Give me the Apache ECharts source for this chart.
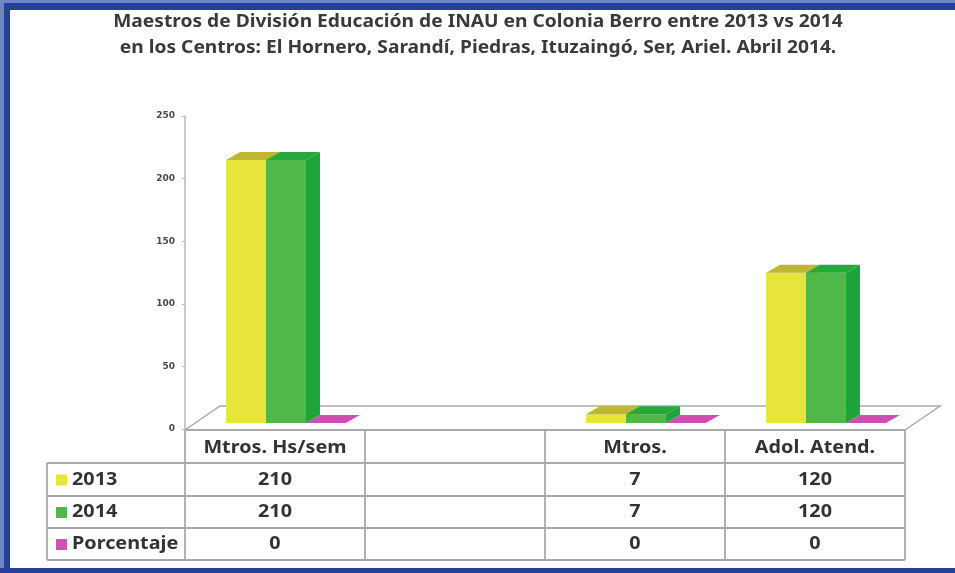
<!DOCTYPE html>
<html><head><meta charset="utf-8">
<script src="https://cdn.jsdelivr.net/npm/echarts@6/dist/echarts.min.js"></script>
<style>html,body{margin:0;padding:0;background:#fff}#c{width:955px;height:573px}</style>
</head><body><div id="c"></div>
<script>
var titleLines = ['Maestros de División Educación de INAU en Colonia Berro entre 2013 vs 2014',
                  'en los Centros: El Hornero, Sarandí, Piedras, Ituzaingó, Ser, Ariel. Abril 2014.'];
var categories = ['Mtros. Hs/sem', '', 'Mtros.', 'Adol. Atend.'];
var seriesNames = ['2013', '2014', 'Porcentaje'];
var values2013 = [210, null, 7, 120];
var values2014 = [210, null, 7, 120];
var valuesPorc = [0, null, 0, 0];
var yTicks = [0, 50, 100, 150, 200, 250];

var allValues = [values2013, values2014, valuesPorc];
var faceColors = [
  {front: '#e7e43c', top: '#bdb830', side: '#d2cf30'},
  {front: '#4fb848', top: '#27a83b', side: '#1da53c'},
  {front: '#cf52b8', top: '#cc4fb4', side: '#b0409c'}
];

var GL = 185, GR = 905, GT = 116, GB = 429;
var chart = echarts.init(document.getElementById('c'));

function makeRender(si) {
  return function (params, api) {
    var cat = api.value(0), v = api.value(1);
    if (v === null || isNaN(v)) return;
    var base = api.coord([cat, 0]);
    var top = api.coord([cat, v]);
    var band = api.size([1, 0])[0];
    var w = band * 0.222;
    var ox = 11, oy = -6, dx = 14, dy = -8;
    var x0 = base[0] - 1.5 * w + si * w + ox;
    var x1 = x0 + w;
    var yb = base[1] + oy, yt = top[1] + oy;
    var c = faceColors[si];
    var kids = [];
    if (yb - yt > 0.5) {
      kids.push({type: 'polygon', shape: {points: [[x1, yb], [x1, yt], [x1 + dx, yt + dy], [x1 + dx, yb + dy]]}, style: {fill: c.side}});
      kids.push({type: 'rect', shape: {x: x0, y: yt, width: w, height: yb - yt}, style: {fill: c.front}});
    }
    kids.push({type: 'polygon', shape: {points: [[x0, yt], [x1, yt], [x1 + dx, yt + dy], [x0 + dx, yt + dy]]}, style: {fill: c.top}});
    return {type: 'group', children: kids};
  };
}

var series = seriesNames.map(function (n, si) {
  return {
    type: 'custom', name: n, z: 10 + (si === 2 ? -1 : si),
    renderItem: makeRender(si),
    data: allValues[si].map(function (v, i) { return [i, v]; }),
    encode: {x: 0, y: 1}
  };
});

chart.setOption({
  animation: false,
  backgroundColor: '#fff',
  grid: {left: GL, right: 955 - GR, top: GT, bottom: 573 - GB},
  xAxis: {type: 'category', data: categories, axisLine: {show: false}, axisTick: {show: false}, axisLabel: {show: false}},
  yAxis: {type: 'value', min: yTicks[0], max: yTicks[yTicks.length - 1], interval: yTicks[1] - yTicks[0],
    axisLine: {show: true, lineStyle: {color: '#b8b8b8', width: 1.5}},
    axisTick: {show: true, length: 3, lineStyle: {color: '#b8b8b8'}},
    splitLine: {show: false},
    axisLabel: {fontSize: 9, fontWeight: 'bold', color: '#4a4a4a', margin: 10, fontFamily: 'DejaVu Sans'}},
  series: series
});

var g = [];
// blue frame
g.push({type: 'rect', shape: {x: 0, y: 0, width: 955, height: 4}, style: {fill: '#6f86c4'}, z: 100});
g.push({type: 'rect', shape: {x: 0, y: 3, width: 955, height: 7}, style: {fill: '#263f98'}, z: 100});
g.push({type: 'rect', shape: {x: 0, y: 0, width: 4, height: 573}, style: {fill: '#6f86c4'}, z: 100});
g.push({type: 'rect', shape: {x: 4, y: 3, width: 6, height: 570}, style: {fill: '#263f98'}, z: 100});
g.push({type: 'rect', shape: {x: 0, y: 568, width: 955, height: 5}, style: {fill: '#263f98'}, z: 100});
// title
titleLines.forEach(function (t, i) {
  g.push({type: 'text', x: 478, y: 22 + i * 26, scaleX: 1.13,
    style: {text: t, fill: '#3a3a3a', font: 'bold 17px "Noto Sans"', textAlign: 'center', textVerticalAlign: 'middle'}});
});
// floor
var lc = '#a9a9a9';
g.push({type: 'polyline', shape: {points: [[GL, 430], [GL + 35, 406], [GR + 35, 406], [GR, 430]]}, style: {stroke: lc, lineWidth: 1.5, fill: null}, z: 1});
// table
var rows = [430, 463, 496, 528, 560];
var TL = 47;
var bw = (GR - GL) / categories.length;
var colX = [GL];
for (var i = 0; i < categories.length; i++) {
  colX.push(chart.convertToPixel({xAxisIndex: 0}, i) + bw / 2);
}
g.push({type: 'line', shape: {x1: GL, y1: 430, x2: GR, y2: 430}, style: {stroke: lc, lineWidth: 1.8}});
for (var r = 1; r < rows.length; r++) {
  g.push({type: 'line', shape: {x1: TL, y1: rows[r], x2: GR, y2: rows[r]}, style: {stroke: lc, lineWidth: 1.8}});
}
g.push({type: 'line', shape: {x1: TL, y1: rows[1], x2: TL, y2: rows[4]}, style: {stroke: lc, lineWidth: 1.8}});
colX.forEach(function (x) {
  g.push({type: 'line', shape: {x1: x, y1: 430, x2: x, y2: rows[4]}, style: {stroke: lc, lineWidth: 1.8}});
});
var tf = 'bold 18px "Noto Sans"';
var SX = 1.1;
categories.forEach(function (c, i) {
  var cx = chart.convertToPixel({xAxisIndex: 0}, i);
  g.push({type: 'text', x: cx, y: (rows[0] + rows[1]) / 2 + 1, scaleX: SX, style: {text: c, fill: '#333', font: tf, textAlign: 'center', textVerticalAlign: 'middle'}});
  allValues.forEach(function (arr, si) {
    if (arr[i] === null) return;
    g.push({type: 'text', x: cx, y: (rows[si + 1] + rows[si + 2]) / 2, scaleX: SX, style: {text: String(arr[i]), fill: '#333', font: tf, textAlign: 'center', textVerticalAlign: 'middle'}});
  });
});
seriesNames.forEach(function (n, si) {
  var cy = (rows[si + 1] + rows[si + 2]) / 2;
  g.push({type: 'rect', shape: {x: 56, y: cy - 5, width: 11, height: 11}, style: {fill: faceColors[si].front}});
  g.push({type: 'text', x: 72, y: cy, scaleX: SX, style: {text: n, fill: '#333', font: tf, textAlign: 'left', textVerticalAlign: 'middle'}});
});
chart.setOption({graphic: {elements: g}});
</script>
</body></html>
